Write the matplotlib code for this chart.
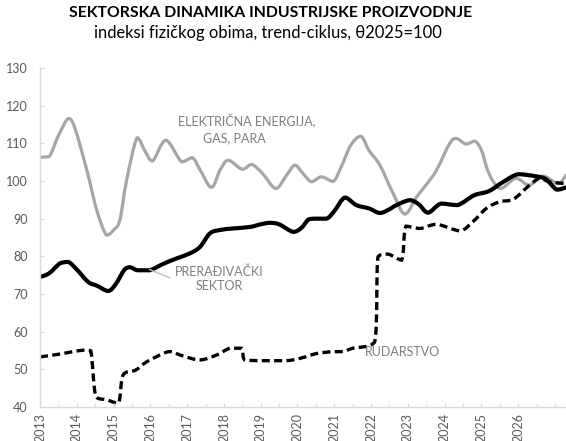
import matplotlib.pyplot as plt
from matplotlib.path import Path
from matplotlib.patches import PathPatch
from matplotlib.ticker import MultipleLocator

# Electricity, gas, steam (grey line)
elec_year = [2013.0, 2013.25, 2013.5, 2013.77, 2013.95, 2014.27, 2014.55, 2014.81, 2015.0, 2015.17,
             2015.35, 2015.64, 2015.85, 2016.06, 2016.42, 2016.85, 2017.14, 2017.35, 2017.66, 2017.9,
             2018.12, 2018.5, 2018.75, 2019.05, 2019.41, 2019.7, 2019.93, 2020.15, 2020.38, 2020.65,
             2020.97, 2021.2, 2021.45, 2021.72, 2021.95, 2022.24, 2022.6, 2022.92, 2023.24, 2023.5,
             2023.78, 2024.14, 2024.32, 2024.58, 2024.82, 2025.0, 2025.14, 2025.3, 2025.53, 2025.94,
             2026.3, 2026.68, 2027.08, 2027.3]
elec_val = [106.3, 106.5, 112.0, 116.6, 114.0, 103.0, 92.0, 85.6, 87.0, 89.6,
            100.0, 111.5, 108.0, 105.3, 110.8, 105.1, 106.2, 103.0, 98.3, 103.0,
            105.5, 103.1, 104.4, 102.0, 98.0, 101.5, 104.2, 102.0, 99.8, 101.1,
            99.9, 104.0, 109.5, 111.9, 108.0, 104.2, 96.7, 91.2, 95.8, 99.0,
            102.9, 110.0, 111.3, 109.8, 110.6, 108.2, 103.7, 100.2, 98.0, 100.7,
            98.9, 101.3, 99.3, 101.5]

# Manufacturing (black solid)
manu_year = [2013.0, 2013.25, 2013.54, 2013.77, 2014.0, 2014.31, 2014.55, 2014.85, 2015.05, 2015.3,
             2015.45, 2015.65, 2015.98, 2016.35, 2016.7, 2017.08, 2017.35, 2017.62,
             2017.9, 2018.25, 2018.71, 2019.0, 2019.25, 2019.5, 2019.88, 2020.1, 2020.3, 2020.47,
             2020.79, 2021.0, 2021.29, 2021.6, 2021.95, 2022.24, 2022.5, 2022.69, 2023.05, 2023.3,
             2023.55, 2023.9, 2024.35, 2024.8, 2025.2, 2025.6, 2026.0, 2026.45, 2026.75, 2027.05,
             2027.3]
manu_val = [74.5, 75.5, 78.1, 78.5, 76.5, 73.2, 72.2, 70.8, 72.5, 76.5,
            77.1, 76.3, 76.3, 78.0, 79.4, 80.8, 82.5, 86.1,
            87.0, 87.4, 87.8, 88.5, 88.9, 88.5, 86.5, 87.5, 89.8, 90.0,
            90.0, 92.0, 95.6, 93.6, 92.7, 91.5, 92.5, 93.6, 94.9, 93.8,
            91.6, 94.0, 93.6, 96.2, 97.3, 99.8, 101.8, 101.3, 100.5, 97.7,
            98.3]

# Mining (black dashed)
mine_year = [2013.0, 2013.5, 2013.9, 2014.2, 2014.38, 2014.52, 2014.81, 2015.13, 2015.26, 2015.6,
             2015.9, 2016.35, 2016.55, 2016.9, 2017.35, 2017.8, 2018.16, 2018.48, 2018.57, 2019.0,
             2019.7, 2020.1, 2020.52, 2020.97, 2021.24, 2021.5, 2022.1, 2022.19, 2022.46, 2022.83,
             2022.95, 2023.33, 2023.78, 2024.41, 2024.77, 2025.13, 2025.5, 2025.86, 2026.31, 2026.58,
             2026.85, 2027.3]
mine_val = [53.3, 54.0, 54.7, 55.1, 54.9, 42.7, 41.9, 41.0, 48.5, 49.8,
            52.0, 54.2, 54.7, 53.5, 52.5, 53.8, 55.6, 55.6, 52.5, 52.3,
            52.3, 53.0, 54.2, 54.7, 54.7, 55.6, 57.3, 79.9, 80.6, 79.0,
            88.0, 87.4, 88.5, 86.8, 89.2, 92.7, 94.5, 95.1, 98.9, 100.7,
            99.8, 99.3]

years = list(range(2013, 2027))

TXT = '#595959'
ANN = '#7f7f7f'
AXC = '#d9d9d9'


def smooth_path(xs, ys):
    # Excel-style smoothed line: cubic bezier through the points
    pts = list(zip(xs, ys))
    n = len(pts)
    verts = [pts[0]]
    codes = [Path.MOVETO]
    for i in range(n - 1):
        p0 = pts[i - 1] if i > 0 else pts[i]
        p1, p2 = pts[i], pts[i + 1]
        p3 = pts[i + 2] if i + 2 < n else pts[i + 1]
        c1 = [p1[0] + (p2[0] - p0[0]) / 6, p1[1] + (p2[1] - p0[1]) / 6]
        c2 = [p2[0] - (p3[0] - p1[0]) / 6, p2[1] - (p3[1] - p1[1]) / 6]
        lo_x, hi_x = p1[0], p2[0]
        lo_y, hi_y = min(p1[1], p2[1]), max(p1[1], p2[1])
        for c in (c1, c2):
            c[0] = min(max(c[0], lo_x), hi_x)
            c[1] = min(max(c[1], lo_y), hi_y)
        verts += [tuple(c1), tuple(c2), p2]
        codes += [Path.CURVE4] * 3
    return Path(verts, codes)


plt.rcParams['font.family'] = ['Lato', 'DejaVu Sans']

fig = plt.figure(figsize=(5.66, 4.41), dpi=100)
ax = fig.add_axes([40 / 566, 34 / 441, 526 / 566, 339 / 441])

ax.add_patch(PathPatch(smooth_path(elec_year, elec_val), fill=False, edgecolor='#a6a6a6',
                       lw=2.3, joinstyle='round', capstyle='round'))
ax.add_patch(PathPatch(smooth_path(manu_year, manu_val), fill=False, edgecolor='black',
                       lw=3.0, joinstyle='round', capstyle='round'))
ax.add_patch(PathPatch(smooth_path(mine_year, mine_val), fill=False, edgecolor='black',
                       lw=2.4, linestyle=(0, (2.4, 1.3)), capstyle='butt'))

ax.set_xlim(2013.0, 2027.3)
ax.set_ylim(40, 130)
ax.set_xticks(years)
ax.set_xticklabels([str(y) for y in years], rotation=90)
ax.xaxis.set_minor_locator(MultipleLocator(0.5))
ax.yaxis.set_major_locator(MultipleLocator(10))

for s in ['top', 'right']:
    ax.spines[s].set_visible(False)
for s in ['left', 'bottom']:
    ax.spines[s].set_color(AXC)
    ax.spines[s].set_linewidth(1.0)

ax.tick_params(axis='x', which='both', direction='in', length=3, color=AXC,
               labelsize=9, labelcolor=TXT, pad=4)
ax.tick_params(axis='y', direction='in', length=3, color=AXC,
               labelsize=9, labelcolor=TXT, pad=9)

# annotations
ax.text(2018.61, 115.9, 'ELEKTRIČNA ENERGIJA,', ha='center', va='center', fontsize=9, color=ANN)
ax.text(2018.29, 111.4, 'GAS, PARA', ha='center', va='center', fontsize=9, color=ANN)
ax.text(2017.86, 74.1, 'PRERAĐIVAČKI\nSEKTOR', ha='center', va='center', fontsize=9,
        color=ANN, linespacing=1.2)
ax.plot([2015.98, 2016.53], [76.5, 74.3], color='#bfbfbf', lw=1.0)
ax.text(2021.84, 54.7, 'RUDARSTVO', ha='left', va='center', fontsize=9, color=ANN)

fig.text(0.478, 0.971, 'SEKTORSKA DINAMIKA INDUSTRIJSKE PROIZVODNJE', ha='center', va='center',
         fontsize=11.3, fontweight='bold', color='black')
fig.text(0.474, 0.925, 'indeksi fizičkog obima, trend-ciklus, θ2025=100', ha='center', va='center',
         fontsize=11.9, color='black')

fig.savefig('out.png', dpi=100)
